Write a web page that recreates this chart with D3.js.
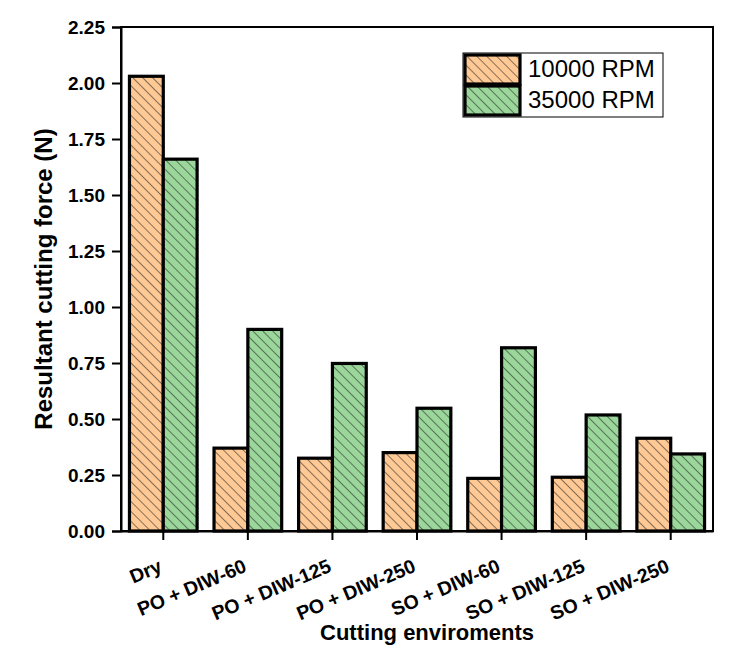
<!DOCTYPE html>
<html>
<head>
<meta charset="utf-8">
<script src="https://cdn.jsdelivr.net/npm/d3@7"></script>
<style>
  body { margin: 0; background: #fff; }
  text { font-family: "Liberation Sans", Arial, sans-serif; }
</style>
</head>
<body>
<div id="chart"></div>
<script>
var categories = ["Dry", "PO + DIW-60", "PO + DIW-125", "PO + DIW-250", "SO + DIW-60", "SO + DIW-125", "SO + DIW-250"];
var rpm10000 = [2.03, 0.37, 0.325, 0.35, 0.235, 0.24, 0.414];
var rpm35000 = [1.66, 0.90, 0.748, 0.548, 0.818, 0.518, 0.344];
var seriesNames = ["10000 RPM", "35000 RPM"];
var yTicks = [0, 0.25, 0.5, 0.75, 1.0, 1.25, 1.5, 1.75, 2.0, 2.25];

var W = 734, H = 647;
var margin = {top: 27, right: 21, bottom: 116, left: 121};
var width = W - margin.left - margin.right,
    height = H - margin.top - margin.bottom;
var colors = ["#fec994", "#9bd69b"];
var font = "Liberation Sans, Arial, sans-serif";

var svg = d3.select("#chart").append("svg")
    .attr("width", W).attr("height", H);

var defs = svg.append("defs");
var sp = 7;
colors.forEach(function(c, i) {
  var p = defs.append("pattern")
      .attr("id", "hatch" + i)
      .attr("patternUnits", "userSpaceOnUse")
      .attr("width", sp).attr("height", sp)
      .attr("patternTransform", "rotate(-45)");
  p.append("rect").attr("width", sp).attr("height", sp).attr("fill", c);
  p.append("line").attr("x1", 0).attr("y1", 0).attr("x2", 0).attr("y2", sp)
      .attr("stroke", "#222").attr("stroke-width", 1.1);
});

var g = svg.append("g")
    .attr("transform", "translate(" + margin.left + "," + margin.top + ")");

var x0 = d3.scaleBand().domain(categories).range([0, width]).paddingInner(0).paddingOuter(0);
var inner = 0.2;
var x1 = d3.scaleBand().domain([0, 1]).range([x0.bandwidth() * inner / 2, x0.bandwidth() * (1 - inner / 2)]);
var y = d3.scaleLinear().domain([0, 2.25]).range([height, 0]);

var data = categories.map(function(c, i) {
  return {cat: c, vals: [rpm10000[i], rpm35000[i]]};
});

var groups = g.selectAll(".grp").data(data).enter().append("g")
    .attr("transform", function(d) { return "translate(" + x0(d.cat) + ",0)"; });

groups.selectAll("rect").data(function(d) { return d.vals; }).enter().append("rect")
    .attr("x", function(d, i) { return x1(i); })
    .attr("y", function(d) { return y(d); })
    .attr("width", x1.bandwidth())
    .attr("height", function(d) { return height - y(d); })
    .attr("fill", function(d, i) { return "url(#hatch" + i + ")"; })
    .attr("stroke", "#000").attr("stroke-width", 3.2);

// frame
g.append("rect").attr("width", width).attr("height", height)
    .attr("fill", "none").attr("stroke", "#000").attr("stroke-width", 2);

var yAxis = g.append("g")
    .call(d3.axisLeft(y).tickValues(yTicks).tickFormat(d3.format(".2f")).tickSize(9).tickPadding(7));
yAxis.select(".domain").attr("stroke-width", 2);
yAxis.selectAll(".tick line").attr("stroke-width", 2);
yAxis.selectAll("text").style("font-size", "19px").style("font-weight", "bold")
    .style("font-family", font).attr("fill", "#000");

var xAxis = g.append("g").attr("transform", "translate(0," + height + ")")
    .call(d3.axisBottom(x0).tickSize(9).tickSizeOuter(0));
xAxis.select(".domain").attr("stroke-width", 2);
xAxis.selectAll(".tick line").attr("stroke-width", 2);
xAxis.selectAll("text")
    .style("font-size", "19.5px").style("font-weight", "bold")
    .style("font-family", font).attr("fill", "#000")
    .attr("text-anchor", "end")
    .attr("x", 0).attr("y", 0).attr("dy", "0")
    .attr("transform", "translate(0,40) rotate(-23)");

svg.append("text")
    .attr("transform", "translate(52,279) rotate(-90)")
    .attr("text-anchor", "middle")
    .style("font-size", "24px").style("font-weight", "bold")
    .text("Resultant cutting force (N)");

svg.append("text")
    .attr("x", 427).attr("y", 640)
    .attr("text-anchor", "middle")
    .style("font-size", "22px").style("font-weight", "bold")
    .text("Cutting enviroments");

// legend
var leg = svg.append("g").attr("transform", "translate(463,53)");
leg.append("rect").attr("width", 200).attr("height", 64)
    .attr("fill", "#fff").attr("stroke", "#000").attr("stroke-width", 1);
seriesNames.forEach(function(n, i) {
  leg.append("rect").attr("x", 2).attr("y", 2 + i * 31).attr("width", 55).attr("height", 29)
      .attr("fill", "url(#hatch" + i + ")").attr("stroke", "#000").attr("stroke-width", 3.2);
  leg.append("text").attr("x", 65).attr("y", 24 + i * 31)
      .style("font-size", "24px").text(n);
});
</script>
</body>
</html>
